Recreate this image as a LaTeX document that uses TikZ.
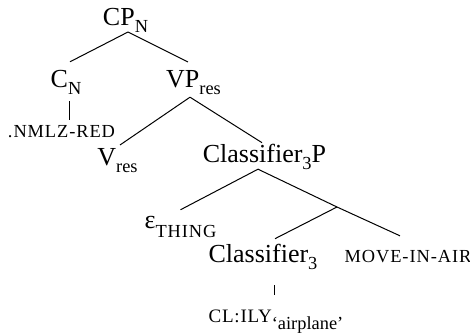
\documentclass[tikz,border=0pt]{standalone}
\usepackage{fontspec}
\setmainfont{Liberation Serif}
\newcommand{\lsc}[1]{{\fontsize{9.2}{10}\selectfont\addfontfeature{LetterSpace=5}#1}}
\newcommand{\lsub}[1]{\raisebox{-3.5pt}{\fontsize{9.2}{10}\selectfont #1}}
\begin{document}
\begin{tikzpicture}[x=0.5pt,y=-0.5pt,font=\fontsize{13}{15}\selectfont,
    every node/.style={anchor=base,inner sep=0pt,outer sep=0pt},
    branch/.style={line width=0.5pt}]
      \useasboundingbox (0,0) rectangle (470,333);
      \draw
        (125.5,25) node (cp){CP\lsub{N}}
        (66,87) node (cn){C\lsub{N}}
        (193.5,87) node (vp){VP\lsub{res}}
        (61.5,137) node (nmlz){\lsc{.NMLZ-RED}}
        (117.5,165) node (vres){V\lsub{res}}
        (264.5,162) node (clp){Classifier\lsub{3}P}
        (180.5,228) node (eps){ε\raisebox{-4.5pt}{\lsc{THING}}}
        (263,262) node (cls){Classifier\lsub{3}}
        (408,262) node (move){\lsc{MOVE-IN-AIR}}
        (276,322) node (ily){{\fontsize{9.5}{10}\selectfont\addfontfeature{LetterSpace=4}CL:ILY}\lsub{‘airplane’}};
      \coordinate (bar) at (337,207);
      \begin{scope}[branch]
        \draw ([xshift=1.25pt]cp.south) to ([xshift=2pt,yshift=4pt]cn.north);
        \draw ([xshift=1.25pt]cp.south) to ([xshift=-2.75pt,yshift=4pt]vp.north);
        \draw ([xshift=1.5pt,yshift=-3.5pt]cn.south) to ([xshift=1.5pt,yshift=2.5pt]cn.south |- nmlz.north);
        \draw ([xshift=-1.75pt,yshift=-1.5pt]vp.south) to ([xshift=1.25pt,yshift=1.5pt]vres.north);
        \draw ([xshift=-1.75pt,yshift=-1.5pt]vp.south) to ([xshift=-1.25pt,yshift=0.5pt]clp.north);
        \draw ([xshift=-3.25pt]clp.south) to ([yshift=3pt]eps.north);
        \draw ([xshift=-3.25pt]clp.south) to (bar) to ([xshift=-4pt,yshift=7pt]move.north);
        \draw (bar) to ([xshift=6pt,yshift=2.5pt]cls.north);
        \draw ([xshift=5.5pt,yshift=-8pt]cls.south) to ([xshift=5.5pt,yshift=7pt]cls.south |- ily.north);
      \end{scope}
    \end{tikzpicture}
\end{document}
